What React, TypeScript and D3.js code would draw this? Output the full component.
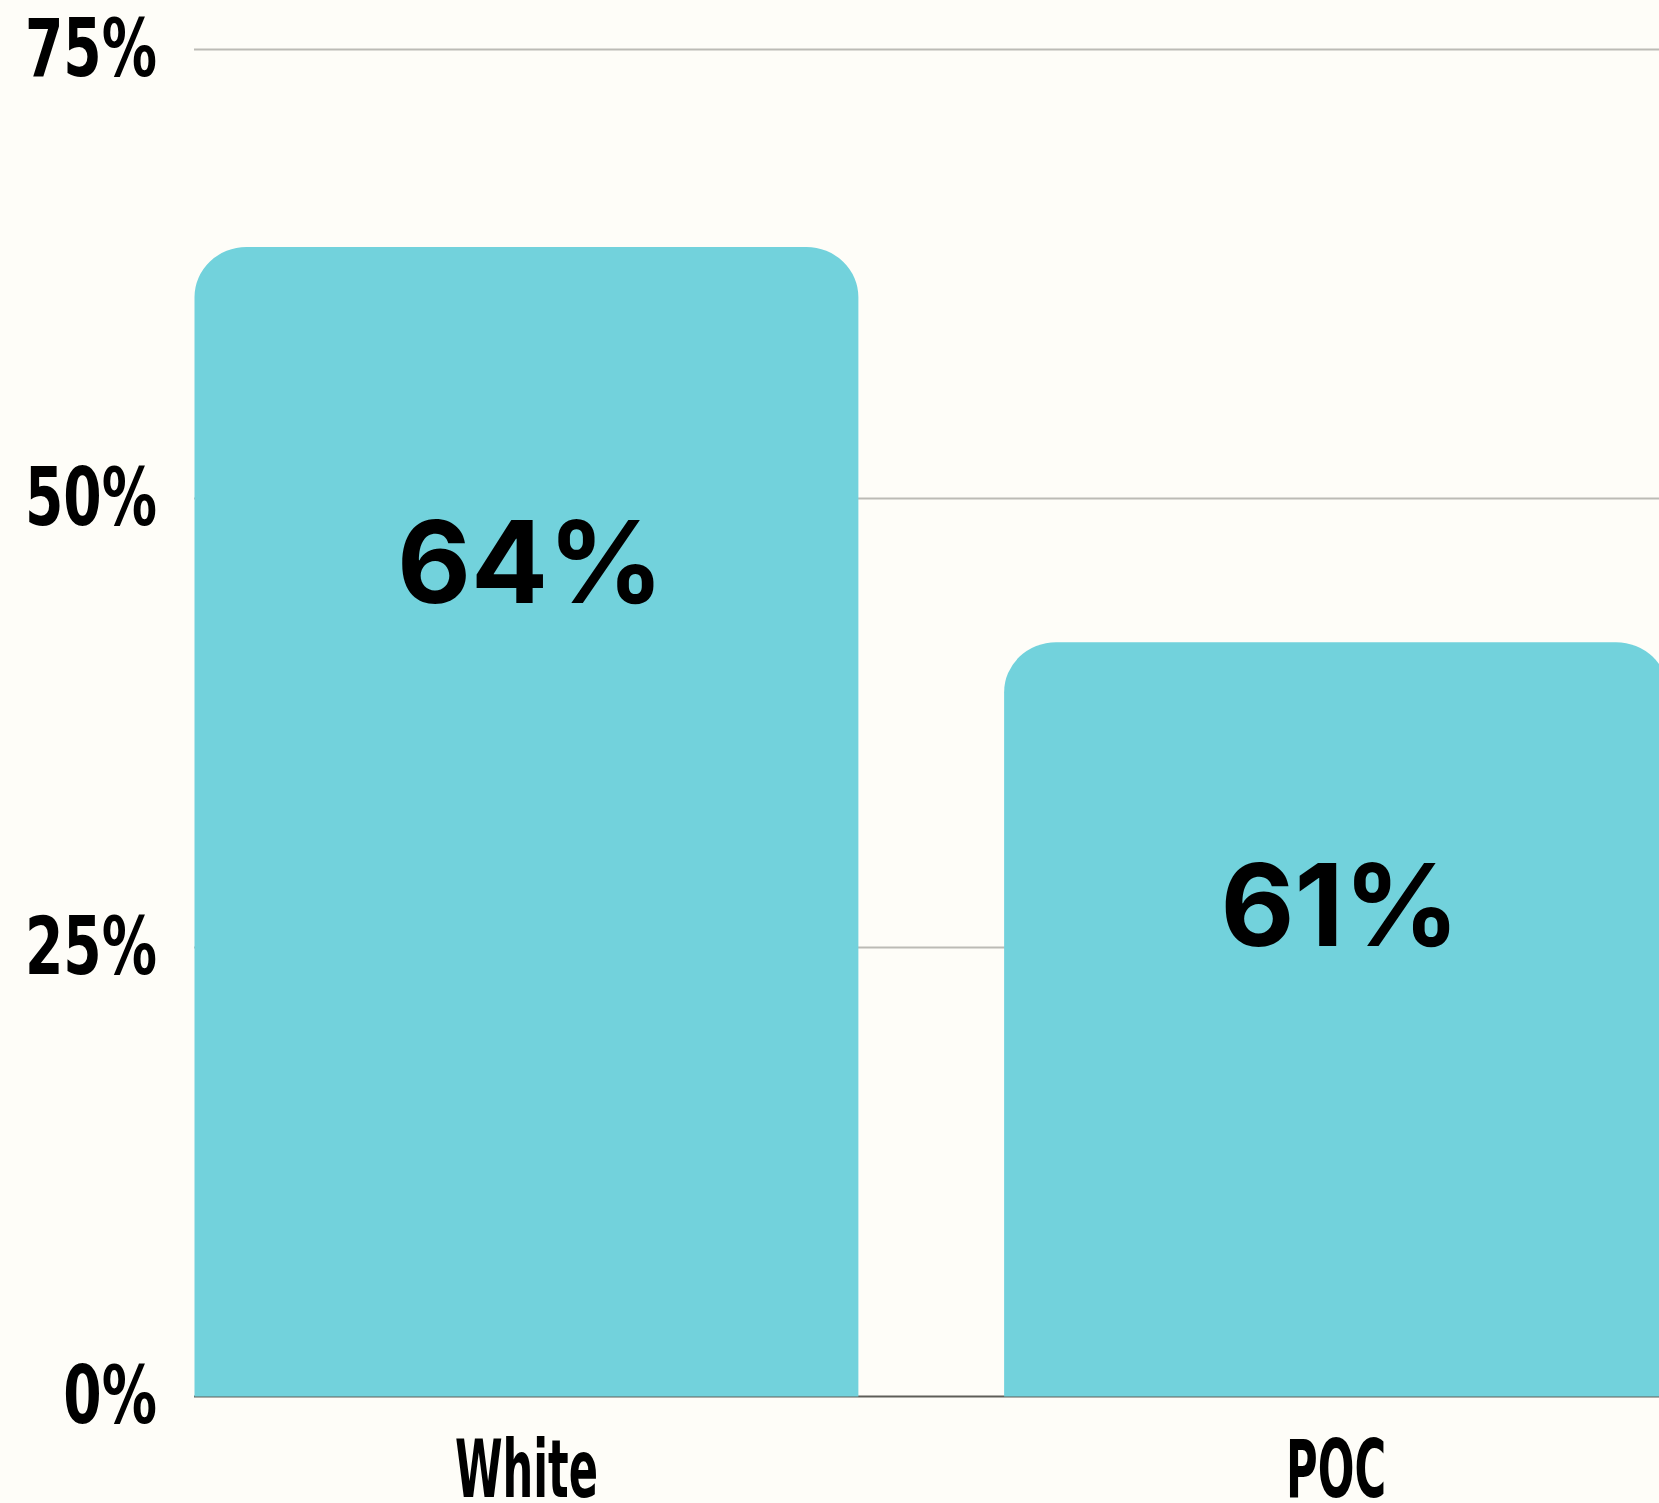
import * as d3 from "d3";

// bar heights as drawn, and the labels printed inside the bars
const categories = ["White", "POC"];
const barValues = [64, 42];
const barLabels = ["64%", "61%"];
// where each inside label sits, in axis units (baseline)
const labelAt = [44.2, 25.1];
const yTicks = [0, 25, 50, 75];

const W = 1659;
const H = 1503;

function topRounded(x: number, top: number, w: number, bottom: number, rx: number, ry: number) {
  return `M${x},${bottom}L${x},${top + ry}A${rx},${ry} 0 0 1 ${x + rx},${top}` +
    `L${x + w - rx},${top}A${rx},${ry} 0 0 1 ${x + w},${top + ry}L${x + w},${bottom}Z`;
}

export default function App() {
  const y = d3.scaleLinear().domain([0, 75]).range([1396.5, 49.5]);
  const x = d3
    .scaleBand<string>()
    .domain(categories)
    .range([194.5, 1668])
    .paddingInner(0.18)
    .paddingOuter(0);
  const bw = x.bandwidth();
  const axisFont = "'DejaVu Sans', sans-serif";

  return (
    <svg
      width={W}
      height={H}
      style={{ position: "absolute", left: 0, top: 0, display: "block" }}
    >
      <rect width={W} height={H} fill="#fefdf8" />
      {/* grid */}
      {yTicks
        .filter((t) => t > 0)
        .map((t) => (
          <line
            key={t}
            x1={194}
            x2={W}
            y1={y(t)}
            y2={y(t)}
            stroke="#bcbbb5"
            strokeWidth={2}
          />
        ))}
      <line x1={194} x2={1668} y1={y(0)} y2={y(0)} stroke="#5e5e58" strokeWidth={2} />
      {/* bars */}
      {categories.map((c, i) => (
        <path
          key={c}
          d={topRounded(x(c)!, y(barValues[i]), bw, y(0), 52, 50)}
          fill="#72d2dc"
        />
      ))}
      {/* value labels */}
      {categories.map((c, i) => (
        <text
          key={c}
          x={x(c)! + bw / 2 + 4}
          y={y(labelAt[i])}
          textAnchor="middle"
          fontFamily="Inter, 'Noto Sans', sans-serif"
          fontWeight={700}
          fontSize={114}
          fill="#000"
        >
          {barLabels[i]}
        </text>
      ))}
      {/* y tick labels */}
      {yTicks.map((t) => (
        <g key={t} transform={`translate(157,${y(t) + 26}) scale(0.69,1)`}>
          <text
            textAnchor="end"
            fontFamily={axisFont}
            fontWeight="bold"
            fontSize={80}
            fill="#000"
          >
            {`${t}%`}
          </text>
        </g>
      ))}
      {/* category labels */}
      {categories.map((c) => (
        <g key={c} transform={`translate(${x(c)! + bw / 2},1497) scale(0.54,1)`}>
          <text
            textAnchor="middle"
            fontFamily={axisFont}
            fontWeight="bold"
            fontSize={80}
            fill="#000"
          >
            {c}
          </text>
        </g>
      ))}
    </svg>
  );
}
